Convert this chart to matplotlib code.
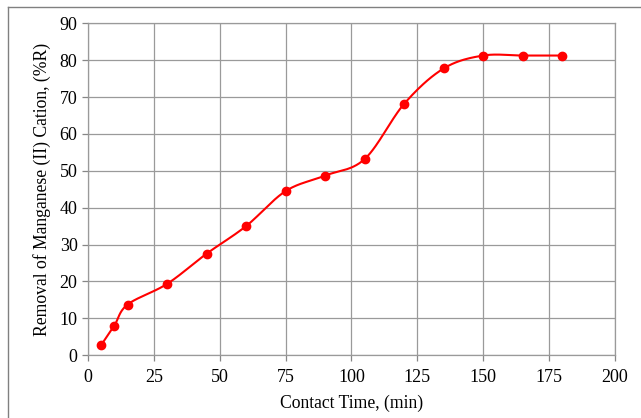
import matplotlib
matplotlib.use("Agg")
import matplotlib.pyplot as plt
from matplotlib.lines import Line2D
import numpy as np

time_min = [5, 10, 15, 30, 45, 60, 75, 90, 105, 120, 135, 150, 165, 180]
removal_pct = [2.7, 8.0, 13.7, 19.3, 27.5, 35.0, 44.5, 48.7, 53.2, 68.2, 77.8, 81.3, 81.3, 81.3]
x_ticks = [0, 25, 50, 75, 100, 125, 150, 175, 200]
y_ticks = [0, 10, 20, 30, 40, 50, 60, 70, 80, 90]

plt.rcParams['font.family'] = ['Liberation Serif', 'DejaVu Serif']

def smooth(xs, ys, n=30):
    xs = np.asarray(xs, float); ys = np.asarray(ys, float)
    px = np.concatenate([[xs[0]], xs, [xs[-1]]])
    py = np.concatenate([[ys[0]], ys, [ys[-1]]])
    ox, oy = [], []
    t = np.linspace(0, 1, n)
    for i in range(1, len(px) - 2):
        p0 = np.array([px[i], py[i]]); p3 = np.array([px[i+1], py[i+1]])
        c1 = p0 + (np.array([px[i+1], py[i+1]]) - np.array([px[i-1], py[i-1]])) / 6
        c2 = p3 - (np.array([px[i+2], py[i+2]]) - np.array([px[i], py[i]])) / 6
        b = ((1-t)**3)[:, None]*p0 + (3*(1-t)**2*t)[:, None]*c1 + (3*(1-t)*t**2)[:, None]*c2 + (t**3)[:, None]*p3
        ox.extend(b[:, 0]); oy.extend(b[:, 1])
    return ox, oy

fig = plt.figure(figsize=(6.41, 4.18), dpi=100)
ax = fig.add_axes([0.1373, 0.1507, 0.8221, 0.7931])

sx, sy = smooth(time_min, removal_pct)
ax.plot(sx, sy, color='#ff0000', lw=1.5, zorder=3)
ax.plot(time_min, removal_pct, 'o', color='#ff0000', ms=6, zorder=4)

ax.set_xlim(0, 200)
ax.set_ylim(0, 90)
ax.set_xticks(x_ticks)
ax.set_yticks(y_ticks)
ax.grid(True, color='#9a9a9a', lw=0.9)
ax.set_axisbelow(True)
for s in ax.spines.values():
    s.set_color('#9a9a9a'); s.set_linewidth(0.9)
ax.tick_params(axis='both', colors='#868686', labelcolor='black', labelsize=13, length=4, width=0.9)
ax.tick_params(axis='x', pad=6)
ax.set_xlabel('Contact Time, (min)', fontsize=12.7, labelpad=6)
ax.set_ylabel('Removal of Manganese (II) Cation, (%R)', fontsize=12.7, labelpad=6)

fig.add_artist(Line2D([8/641, 1], [1-7/418, 1-7/418], color='#808080', lw=1, transform=fig.transFigure))
fig.add_artist(Line2D([8/641, 8/641], [0, 1-7/418], color='#808080', lw=1, transform=fig.transFigure))

fig.savefig('out.png', dpi=100)
